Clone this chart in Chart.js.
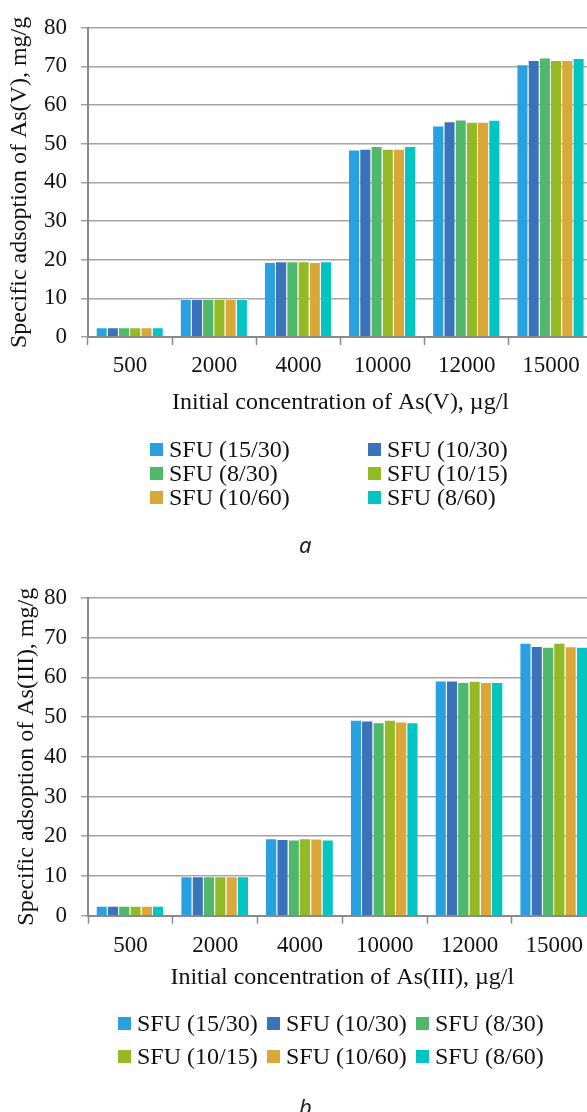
<!DOCTYPE html>
<html>
<head>
<meta charset="utf-8">
<script src="https://cdn.jsdelivr.net/npm/chart.js@4/dist/chart.umd.min.js"></script>
<style>
html, body { margin:0; padding:0; width:587px; height:1112px; overflow:hidden; background:#ffffff; }
.wrap { position:absolute; left:0; }
.legend { position:absolute; left:0; top:0; width:587px; height:1112px; font-family:'Liberation Serif', 'Times New Roman', serif; font-size:24px; color:#111; pointer-events:none; }
.item { position:absolute; display:flex; align-items:center; height:24px; line-height:24px; white-space:nowrap; }
.sw { display:inline-block; width:13px; height:13px; flex:0 0 13px; }
.cap { position:absolute; font-family:'Noto Sans', sans-serif; font-style:italic; font-size:22px; line-height:22px; color:#222; }
</style>
</head>
<body>
<div class="wrap" id="wrapA" style="top:0px;"><canvas id="chartA" width="600" height="420"></canvas></div>
<div class="wrap" id="wrapB" style="top:570px;"><canvas id="chartB" width="600" height="425"></canvas></div>
<div class="legend" id="legendLayer"></div>
<script>
// ---------- data ----------
const categories = ['500', '2000', '4000', '10000', '12000', '15000'];
const seriesLabels = ['SFU (15/30)', 'SFU (10/30)', 'SFU (8/30)', 'SFU (10/15)', 'SFU (10/60)', 'SFU (8/60)'];
const seriesColors = ['#29A0E0', '#3A73BA', '#4FB86B', '#93B924', '#D9A73A', '#02C5C3'];
const yTicks = [0, 10, 20, 30, 40, 50, 60, 70, 80];

// Panel a: As(V)
const asV_15_30 = [2.5, 9.8, 19.4, 48.5, 54.7, 70.6];
const asV_10_30 = [2.5, 9.8, 19.6, 48.7, 55.8, 71.7];
const asV_8_30  = [2.5, 9.8, 19.6, 49.4, 56.3, 72.3];
const asV_10_15 = [2.5, 9.8, 19.6, 48.7, 55.7, 71.7];
const asV_10_60 = [2.5, 9.8, 19.4, 48.7, 55.7, 71.7];
const asV_8_60  = [2.5, 9.8, 19.6, 49.4, 56.2, 72.2];

// Panel b: As(III)
const asIII_15_30 = [2.5, 9.9, 19.5, 49.3, 59.2, 68.7];
const asIII_10_30 = [2.5, 9.9, 19.3, 49.1, 59.2, 67.9];
const asIII_8_30  = [2.5, 9.9, 19.2, 48.7, 58.8, 67.7];
const asIII_10_15 = [2.5, 9.9, 19.5, 49.3, 59.1, 68.7];
const asIII_10_60 = [2.5, 9.9, 19.4, 48.9, 58.8, 67.8];
const asIII_8_60  = [2.5, 9.9, 19.2, 48.7, 58.8, 67.7];

const seriesA = [asV_15_30, asV_10_30, asV_8_30, asV_10_15, asV_10_60, asV_8_60];
const seriesB = [asIII_15_30, asIII_10_30, asIII_8_30, asIII_10_15, asIII_10_60, asIII_8_60];

// ---------- chart builder ----------
function makeChart(canvasId, series, yTitle, xTitle, cfg) {
  const datasets = series.map((vals, i) => ({
    label: seriesLabels[i],
    data: vals,
    backgroundColor: seriesColors[i],
    borderColor: 'rgba(255,255,255,0.35)',
    borderWidth: { top: 1, right: 1, left: 0, bottom: 0 },
    borderSkipped: 'bottom',
    categoryPercentage: 0.8,
    barPercentage: 1.0
  }));
  return new Chart(document.getElementById(canvasId), {
    type: 'bar',
    data: { labels: categories, datasets: datasets },
    options: {
      responsive: false,
      animation: false,
      devicePixelRatio: 1,
      layout: { padding: { top: cfg.padTop, right: cfg.padRight, left: 0, bottom: 0 } },
      plugins: { legend: { display: false }, tooltip: { enabled: false } },
      scales: {
        x: {
          grid: { display: true, offset: true, drawOnChartArea: false, drawTicks: true, tickLength: 8, tickColor: '#8a8a8a', tickWidth: 1.5 },
          border: { display: true, color: '#8a8a8a', width: 2 },
          ticks: { color: '#111', padding: cfg.xTickPad, maxRotation: 0, autoSkip: false,
                   font: { family: 'Liberation Serif', size: 23 } },
          title: { display: true, text: xTitle, color: '#111', padding: { top: 0, bottom: 3 },
                   font: { family: 'Liberation Serif', size: 24 } },
          afterFit: (s) => { s.height = cfg.xHeight; }
        },
        y: {
          min: 0, max: 80,
          afterBuildTicks: (s) => { s.ticks = yTicks.map(v => ({ value: v })); },
          grid: { color: '#a3a3a3', lineWidth: 1.5, drawTicks: true, tickLength: 7, tickColor: '#a3a3a3' },
          border: { display: true, color: '#8a8a8a', width: 2 },
          ticks: { color: '#111', padding: 14, font: { family: 'Liberation Serif', size: 23 } },
          title: { display: true, text: yTitle, color: '#111', padding: { top: cfg.yTitlePad, bottom: 0 },
                   font: { family: 'Liberation Serif', size: 24 } },
          afterFit: (s) => { s.width = 88; }
        }
      }
    }
  });
}

makeChart('chartA', seriesA, 'Specific adsoption of As(V), mg/g', 'Initial concentration of As(V), \u00b5g/l',
  { padTop: 23, padRight: 7, xHeight: 83, xTickPad: 7, yTitlePad: 5.6 });
makeChart('chartB', seriesB, 'Specific adsoption of As(III), mg/g', 'Initial concentration of As(III), \u00b5g/l',
  { padTop: 22.3, padRight: 3.5, xHeight: 79.3, xTickPad: 8.4, yTitlePad: 12.6 });

// ---------- HTML legends ----------
const layer = document.getElementById('legendLayer');
function addItem(idx, left, centerY) {
  const d = document.createElement('div');
  d.className = 'item';
  d.style.left = left + 'px';
  d.style.top = (centerY - 12) + 'px';
  const sw = document.createElement('span');
  sw.className = 'sw';
  sw.style.background = seriesColors[idx];
  sw.style.marginRight = '6px';
  const t = document.createElement('span');
  t.textContent = seriesLabels[idx];
  d.appendChild(sw); d.appendChild(t);
  layer.appendChild(d);
}
// legend a: 2 columns x 3 rows
const legACols = [150, 368];
const legARows = [449, 473, 497];
for (let i = 0; i < 6; i++) addItem(i, legACols[i % 2], legARows[Math.floor(i / 2)]);
// legend b: 3 columns x 2 rows
const legBCols = [118, 267, 416];
const legBRows = [1023, 1056];
for (let i = 0; i < 6; i++) addItem(i, legBCols[i % 3], legBRows[Math.floor(i / 3)]);

function addCap(txt, left, top) {
  const c = document.createElement('div');
  c.className = 'cap';
  c.textContent = txt;
  c.style.left = left + 'px';
  c.style.top = top + 'px';
  layer.appendChild(c);
}
addCap('a', 299, 533);
addCap('b', 299, 1095);
</script>
</body>
</html>
